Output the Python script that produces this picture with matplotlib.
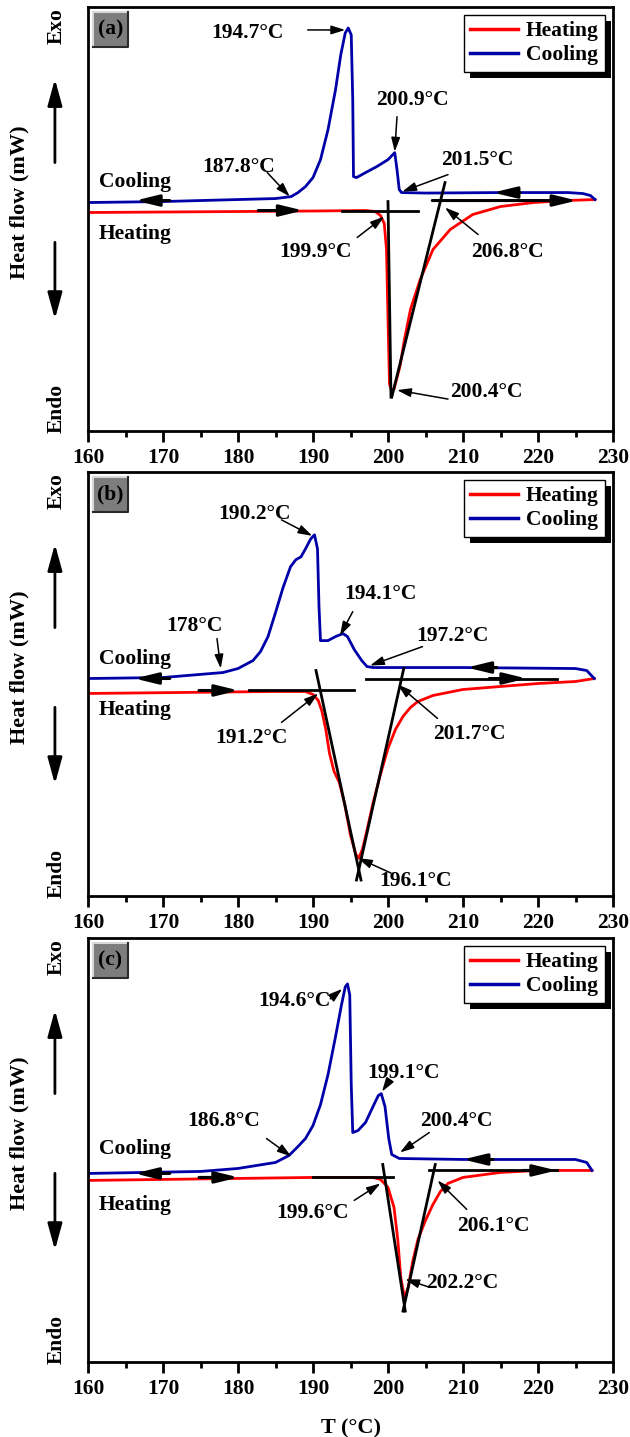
import matplotlib.pyplot as plt
from matplotlib.patches import Rectangle
from matplotlib.lines import Line2D
from matplotlib.ticker import MultipleLocator

plt.rcParams['font.family'] = ['Liberation Serif', 'DejaVu Serif']
plt.rcParams['font.weight'] = 'bold'
plt.rcParams['axes.labelweight'] = 'bold'

RED = '#ff0000'
BLUE = '#0000a8'
FS = 15.5

# ---------------- sample (a) ----------------
a_heat_T = [160, 170, 180, 190, 197, 198.3, 199, 199.5, 199.8, 200, 200.2, 200.5, 200.8,
            201.6, 202.2, 203, 204.3, 206, 208.3, 211.3, 215, 219.4, 223.8, 227.6]
a_heat_hf = [2.19, 2.195, 2.20, 2.205, 2.21, 2.20, 2.16, 2.08, 1.82, 1.12, 0.47, 0.40, 0.42,
             0.65, 0.92, 1.22, 1.52, 1.82, 2.02, 2.17, 2.25, 2.29, 2.31, 2.32]
a_cool_T = [160, 170, 180, 185, 187.1, 188, 189, 190, 191, 192, 193, 193.7, 194.3, 194.7,
            195.1, 195.3, 195.4, 195.8, 197, 198.5, 200, 200.9, 201.2, 201.5, 201.8, 205,
            215, 224, 226, 227, 227.6]
a_cool_hf = [2.29, 2.30, 2.32, 2.33, 2.35, 2.39, 2.45, 2.54, 2.72, 3.02, 3.42, 3.77, 3.99, 4.04,
             3.97, 3.32, 2.55, 2.54, 2.59, 2.65, 2.72, 2.79, 2.62, 2.42, 2.39, 2.385,
             2.39, 2.39, 2.38, 2.36, 2.32]
# tangent construction lines [(T1, hf1), (T2, hf2)]
a_tangents = [[(193.9, 2.21), (204.0, 2.21)],
              [(200.0, 2.30), (200.4, 0.34)],
              [(200.5, 0.34), (207.6, 2.49)]]
# scan direction arrows (T_tail, T_tip, hf)
a_scan = [(182.7, 188.7, 2.21), (205.9, 225.2, 2.31), (170.9, 166.3, 2.31), (217.6, 214.0, 2.39)]
a_notes = [('194.7°C', (181.3, 3.99), (189.3, 4.02), (194.3, 4.02)),
           ('187.8°C', (180.1, 2.65), (183.9, 2.59), (186.9, 2.35)),
           ('200.9°C', (203.2, 3.32), (201.2, 3.15), (200.9, 2.80)),
           ('201.5°C', (211.9, 2.72), (208.0, 2.57), (201.9, 2.40)),
           ('199.9°C', (190.3, 1.79), (195.9, 1.94), (199.5, 2.15)),
           ('206.8°C', (215.9, 1.79), (212.0, 1.97), (207.6, 2.24)),
           ('200.4°C', (213.1, 0.39), (208.0, 0.32), (201.2, 0.41))]
a_words = [(2.50, 1.97)]

# ---------------- sample (b) ----------------
b_heat_T = [160, 185, 189, 190, 190.7, 191.2, 191.7, 192.2, 192.8, 193.5, 194.2, 195, 195.7,
            196.1, 196.6, 197.2, 198, 199, 200, 201, 202, 203, 204, 206, 210, 215, 220, 225, 227.5]
b_heat_hf = [2.03, 2.05, 2.05, 2.02, 1.96, 1.85, 1.67, 1.43, 1.25, 1.14, 0.93, 0.61, 0.42,
             0.38, 0.47, 0.66, 0.93, 1.22, 1.48, 1.67, 1.80, 1.89, 1.95, 2.01, 2.07, 2.10, 2.13, 2.15, 2.18]
b_cool_T = [160, 170, 178, 180, 182, 183, 184, 185, 186, 187, 187.7, 188.4, 189, 189.7, 190.2,
            190.6, 190.8, 191, 192, 193, 194, 194.6, 195.5, 196.5, 197.2, 198, 210, 225, 226.5, 227.5]
b_cool_hf = [2.18, 2.19, 2.24, 2.28, 2.36, 2.45, 2.60, 2.84, 3.09, 3.30, 3.37, 3.40, 3.48, 3.58, 3.62,
             3.48, 2.90, 2.56, 2.56, 2.60, 2.63, 2.60, 2.47, 2.36, 2.30, 2.29, 2.29, 2.28, 2.26, 2.18]
b_tangents = [[(181.5, 2.06), (195.5, 2.06)],
              [(190.4, 2.26), (196.4, 0.16)],
              [(195.8, 0.16), (202.1, 2.28)],
              [(197.0, 2.18), (222.5, 2.18)]]
b_scan = [(174.8, 180.1, 2.06), (213.5, 218.5, 2.18), (170.9, 166.2, 2.18), (214.5, 210.5, 2.29)]
b_notes = [('190.2°C', (182.2, 3.83), (185.8, 3.77), (189.9, 3.61)),
           ('178°C', (174.2, 2.71), (177.2, 2.58), (177.7, 2.28)),
           ('194.1°C', (199.0, 3.03), (195.3, 2.85), (193.6, 2.61)),
           ('197.2°C', (208.6, 2.61), (204.6, 2.50), (197.6, 2.31)),
           ('191.2°C', (181.8, 1.58), (185.8, 1.74), (190.7, 2.03)),
           ('201.7°C', (210.8, 1.62), (206.6, 1.78), (201.3, 2.12)),
           ('196.1°C', (203.7, 0.15), (200.4, 0.23), (196.0, 0.38))]
b_words = [(2.38, 1.86)]

# ---------------- sample (c) ----------------
c_heat_T = [160, 190, 198, 199, 200, 200.8, 201.3, 201.7, 202.2, 202.7, 203.3, 204, 205, 206,
            207, 208, 210, 215, 220, 227.2]
c_heat_hf = [1.82, 1.85, 1.85, 1.83, 1.75, 1.55, 1.23, 0.85, 0.64, 0.75, 1.01, 1.23, 1.42, 1.58,
             1.71, 1.79, 1.85, 1.90, 1.92, 1.92]
c_cool_T = [160, 175, 180, 185, 186.8, 188, 189, 190, 191, 192, 193, 193.8, 194.3, 194.6, 194.9,
            195.1, 195.3, 196, 197, 198, 198.7, 199.1, 199.6, 200.1, 200.5, 201.5, 210, 225, 226.5, 227.2]
c_cool_hf = [1.89, 1.91, 1.94, 2.00, 2.07, 2.16, 2.24, 2.37, 2.58, 2.88, 3.26, 3.58, 3.76, 3.79, 3.68,
             2.78, 2.30, 2.32, 2.40, 2.56, 2.67, 2.69, 2.56, 2.24, 2.08, 2.04, 2.03, 2.03, 2.00, 1.92]
c_tangents = [[(190.0, 1.85), (200.7, 1.85)],
              [(199.3, 1.98), (202.3, 0.51)],
              [(202.0, 0.51), (206.3, 1.98)],
              [(205.5, 1.92), (222.5, 1.92)]]
c_scan = [(174.8, 180.1, 1.85), (218.0, 222.5, 1.92), (170.9, 166.2, 1.89), (214.0, 210.0, 2.03)]
c_notes = [('194.6°C', (187.5, 3.62), (192.3, 3.64), (193.9, 3.74)),
           ('199.1°C', (202.0, 2.90), (200.0, 2.80), (199.2, 2.71)),
           ('186.8°C', (178.1, 2.42), (183.8, 2.24), (187.1, 2.06)),
           ('200.4°C', (209.1, 2.42), (205.5, 2.30), (201.6, 2.10)),
           ('199.6°C', (190.0, 1.49), (195.5, 1.62), (199.0, 1.79)),
           ('206.1°C', (214.1, 1.36), (210.5, 1.53), (206.6, 1.82)),
           ('202.2°C', (209.9, 0.79), (205.5, 0.75), (202.3, 0.83))]
c_words = [(2.14, 1.57)]

panels = [
    ('(a)', a_heat_T, a_heat_hf, a_cool_T, a_cool_hf, a_tangents, a_scan, a_notes, a_words[0]),
    ('(b)', b_heat_T, b_heat_hf, b_cool_T, b_cool_hf, b_tangents, b_scan, b_notes, b_words[0]),
    ('(c)', c_heat_T, c_heat_hf, c_cool_T, c_cool_hf, c_tangents, c_scan, c_notes, c_words[0]),
]

fig = plt.figure(figsize=(6.3, 14.37), dpi=100)
W, H = 630, 1437
ax_left, ax_w = 88, 525
ax_tops = [7, 472, 938]
ax_h = 424


def draw_panel(ax, tag, hT, hf_h, cT, hf_c, tangents, scan, notes, words):
    lh, = ax.plot(hT, hf_h, color=RED, lw=2.0, label='Heating', zorder=2)
    lc, = ax.plot(cT, hf_c, color=BLUE, lw=2.0, label='Cooling', zorder=2)
    for (p1, p2) in tangents:
        ax.plot([p1[0], p2[0]], [p1[1], p2[1]], color='k', lw=2.0, zorder=3)
    for t0, t1, y in scan:
        ax.annotate('', xy=(t1, y), xytext=(t0, y),
                    arrowprops=dict(arrowstyle='-|>,head_length=0.7,head_width=0.17',
                                    color='k', lw=2.2, mutation_scale=20,
                                    shrinkA=0, shrinkB=0), zorder=4)
    for txt, tpos, tail, tip in notes:
        ax.text(tpos[0], tpos[1], txt, fontsize=FS, ha='center', va='center', zorder=5)
        ax.annotate('', xy=tip, xytext=tail,
                    arrowprops=dict(arrowstyle='-|>,head_length=0.7,head_width=0.22',
                                    color='k', lw=1.1, mutation_scale=12,
                                    shrinkA=0, shrinkB=0), zorder=5)
    ax.text(161.4, words[0], 'Cooling', fontsize=FS, ha='left', va='center')
    ax.text(161.4, words[1], 'Heating', fontsize=FS, ha='left', va='center')

    ax.set_xlim(160, 230)
    ax.set_ylim(0, 4.25)
    ax.xaxis.set_major_locator(MultipleLocator(10))
    ax.xaxis.set_minor_locator(MultipleLocator(5))
    ax.tick_params(axis='x', which='major', direction='out', length=8, width=2,
                   labelsize=FS, pad=4)
    ax.tick_params(axis='x', which='minor', direction='out', length=4, width=2)
    ax.tick_params(axis='y', left=False, labelleft=False)
    for s in ax.spines.values():
        s.set_linewidth(2.0)

    # sample tag in a bevelled grey box
    bx, by = 5 / ax_w, 1 - 40 / ax_h
    bw, bh = 35 / ax_w, 35 / ax_h
    ax.add_patch(Rectangle((bx, by), bw, bh, transform=ax.transAxes, fc='#7d7d7d',
                           ec='none', zorder=6))
    ax.add_line(Line2D([bx, bx, bx + bw], [by, by + bh, by + bh], transform=ax.transAxes,
                       color='#d8d8d8', lw=1.5, zorder=7))
    ax.add_line(Line2D([bx, bx + bw, bx + bw], [by, by, by + bh], transform=ax.transAxes,
                       color='#2a2a2a', lw=1.5, zorder=7))
    ax.text(bx + bw / 2, by + bh / 2, tag, transform=ax.transAxes, fontsize=FS,
            ha='center', va='center', zorder=8)

    # Exo / Endo side markers
    ax.text(-0.059, 0.955, 'Exo', transform=ax.transAxes, rotation=90, fontsize=FS,
            ha='center', va='center')
    ax.text(-0.059, 0.054, 'Endo', transform=ax.transAxes, rotation=90, fontsize=FS,
            ha='center', va='center')
    ax.annotate('', xy=(-0.063, 0.83), xytext=(-0.063, 0.633), xycoords='axes fraction',
                annotation_clip=False,
                arrowprops=dict(arrowstyle='-|>,head_length=0.8,head_width=0.22',
                                color='k', lw=2.0, mutation_scale=20, shrinkA=0, shrinkB=0))
    ax.annotate('', xy=(-0.063, 0.264), xytext=(-0.063, 0.445), xycoords='axes fraction',
                annotation_clip=False,
                arrowprops=dict(arrowstyle='-|>,head_length=0.8,head_width=0.22',
                                color='k', lw=2.0, mutation_scale=20, shrinkA=0, shrinkB=0))
    ax.text(-0.13, 0.54, 'Heat flow (mW)', transform=ax.transAxes, rotation=90,
            fontsize=16, ha='center', va='center')

    leg = ax.legend(handles=[lh, lc], loc='upper right', fontsize=FS, frameon=True,
                    fancybox=False, framealpha=1, edgecolor='k', handlelength=2.2,
                    borderaxespad=0.35, borderpad=0.3, labelspacing=0.2, handletextpad=0.4)
    leg.get_frame().set_linewidth(1.0)
    for line in leg.get_lines():
        line.set_linewidth(2.5)
    return leg


legs = []
axes = []
for (tag, hT, hh, cT, hc, tg, sc, nt, wd), top in zip(panels, ax_tops):
    ax = fig.add_axes([ax_left / W, 1 - (top + ax_h) / H, ax_w / W, ax_h / H])
    legs.append(draw_panel(ax, tag, hT, hh, cT, hc, tg, sc, nt, wd))
    axes.append(ax)

axes[-1].set_xlabel('T (°C)', fontsize=16, labelpad=14)

# solid black drop shadow behind each legend
fig.canvas.draw()
for ax, leg in zip(axes, legs):
    bb = leg.get_window_extent().transformed(ax.transAxes.inverted())
    dx, dy = 6 / ax_w, 6 / ax_h
    ax.add_patch(Rectangle((bb.x0 + dx, bb.y0 - dy), bb.width, bb.height,
                           transform=ax.transAxes, fc='k', ec='none', zorder=4.9,
                           clip_on=False))

fig.savefig('out.png', dpi=100)
